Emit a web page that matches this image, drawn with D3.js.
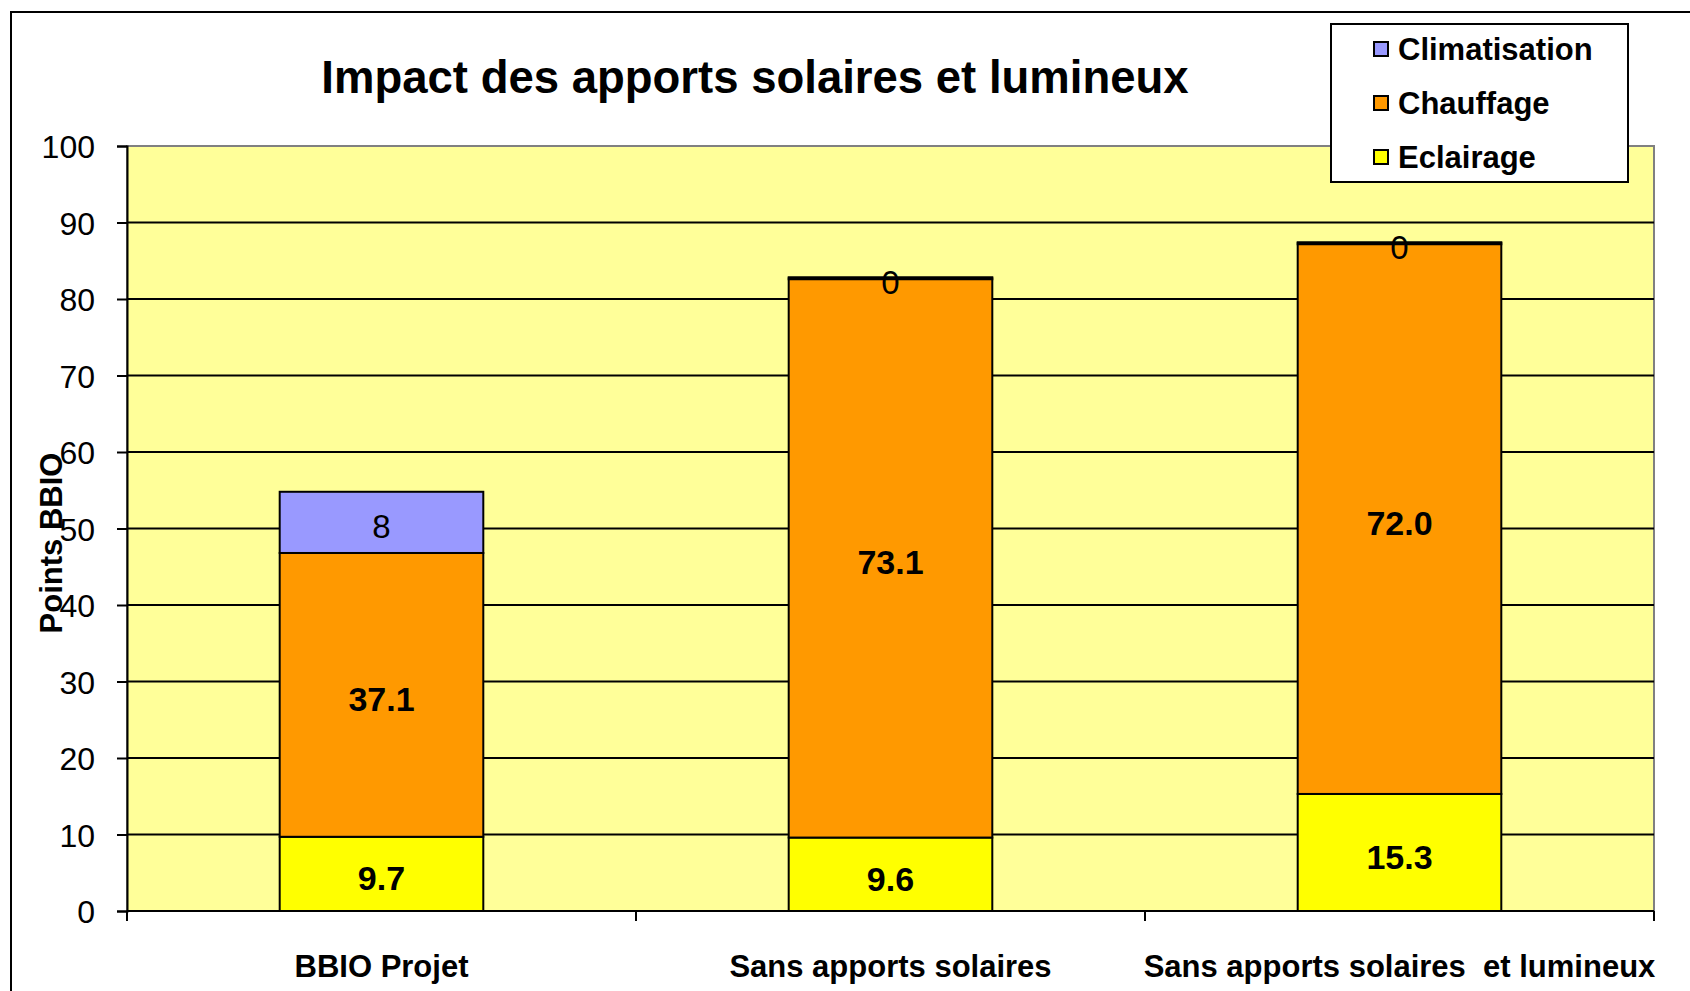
<!DOCTYPE html>
<html>
<head>
<meta charset="utf-8">
<script src="https://cdn.jsdelivr.net/npm/d3@7"></script>
<style>
  html, body { margin: 0; padding: 0; background: #fff; }
  svg { display: block; font-family: "Liberation Sans", Arial, sans-serif; }
</style>
</head>
<body>
<svg id="chart" width="1690" height="991"></svg>
<script>
// ---- data ----
const categories = ["BBIO Projet", "Sans apports solaires", "Sans apports solaires  et lumineux"];
const seriesNames = ["Climatisation", "Chauffage", "Eclairage"];
const eclairage = [9.7, 9.6, 15.3];
const chauffage = [37.1, 73.1, 72.0];
const climatisation = [8, 0, 0];
const yTickValues = [0, 10, 20, 30, 40, 50, 60, 70, 80, 90, 100];
const titleText = "Impact des apports solaires et lumineux";
const yAxisTitle = "Points BBIO";

// ---- layout ----
const W = 1690, H = 991;
const plot = { left: 127, right: 1654, top: 146, bottom: 911 };
const colors = { Climatisation: "#9999FF", Chauffage: "#FF9900", Eclairage: "#FFFF00" };
const font = '"Liberation Sans", Arial, sans-serif';

const svg = d3.select("#chart");

// outer chart border (extends past right/bottom)
svg.append("rect").attr("x", 11).attr("y", 12).attr("width", W + 20).attr("height", H + 20)
  .attr("fill", "#fff").attr("stroke", "#000").attr("stroke-width", 2);

const x = d3.scaleBand().domain(categories).range([plot.left, plot.right])
  .paddingInner(0.6).paddingOuter(0.3);
const y = d3.scaleLinear().domain([0, 100]).range([plot.bottom, plot.top]);

// plot area
svg.append("rect").attr("x", plot.left).attr("y", plot.top)
  .attr("width", plot.right - plot.left).attr("height", plot.bottom - plot.top)
  .attr("fill", "#FFFF99").attr("stroke", "#808080").attr("stroke-width", 2);

// gridlines
svg.append("g").selectAll("line").data(yTickValues.filter(v => v > 0 && v < 100)).join("line")
  .attr("x1", plot.left).attr("x2", plot.right)
  .attr("y1", d => y(d)).attr("y2", d => y(d))
  .attr("stroke", "#000").attr("stroke-width", 2);

// y axis
const yAxis = d3.axisLeft(y).tickValues(yTickValues).tickSize(10).tickPadding(22).tickFormat(d3.format("d"));
const gy = svg.append("g").attr("transform", `translate(${plot.left},0)`).call(yAxis);
gy.select(".domain").attr("stroke", "#000").attr("stroke-width", 2);
gy.selectAll(".tick line").attr("stroke", "#000").attr("stroke-width", 2);
gy.selectAll(".tick text").attr("font-family", font).attr("font-size", 32).attr("fill", "#000")
  .attr("dy", "0.36em");

// stacked data
const rows = categories.map((c, i) => ({ cat: c, Eclairage: eclairage[i], Chauffage: chauffage[i], Climatisation: climatisation[i] }));
const stackOrder = ["Eclairage", "Chauffage", "Climatisation"];
const stacked = d3.stack().keys(stackOrder)(rows);

const barsG = svg.append("g");
stacked.forEach(layer => {
  const key = layer.key;
  layer.forEach((seg, i) => {
    const x0 = x(rows[i].cat), bw = x.bandwidth();
    const y0 = y(seg[0]), y1 = y(seg[1]);
    if (y0 - y1 > 0.01) {
      barsG.append("rect").attr("x", x0).attr("y", y1).attr("width", bw).attr("height", y0 - y1)
        .attr("fill", colors[key]).attr("stroke", "#000").attr("stroke-width", 2);
    } else {
      barsG.append("line").attr("x1", x0 - 1).attr("x2", x0 + bw + 1).attr("y1", y1).attr("y2", y1)
        .attr("stroke", "#000").attr("stroke-width", 4);
    }
  });
});

// x axis (baseline + ticks at band boundaries)
svg.append("line").attr("x1", plot.left).attr("x2", plot.right).attr("y1", y(0)).attr("y2", y(0))
  .attr("stroke", "#000").attr("stroke-width", 2);
const boundaries = categories.map(c => x(c) - x.step() * x.paddingInner() / 2).concat([plot.right]);
boundaries[0] = plot.left;
svg.append("g").selectAll("line").data(boundaries).join("line")
  .attr("x1", d => d).attr("x2", d => d).attr("y1", y(0)).attr("y2", y(0) + 10)
  .attr("stroke", "#000").attr("stroke-width", 2);

// category labels
svg.append("g").selectAll("text").data(categories).join("text")
  .attr("x", d => x(d) + x.bandwidth() / 2).attr("y", 977)
  .attr("text-anchor", "middle").attr("font-family", font).attr("font-weight", "bold")
  .attr("font-size", 31).attr("fill", "#000").style("white-space", "pre")
  .text(d => d);

// data labels
const fmt1 = d3.format(".1f");
const labelsG = svg.append("g");
stacked.forEach(layer => {
  const key = layer.key;
  layer.forEach((seg, i) => {
    const cx = x(rows[i].cat) + x.bandwidth() / 2;
    const cy = (y(seg[0]) + y(seg[1])) / 2 + 4;
    const v = rows[i][key];
    const isClim = key === "Climatisation";
    labelsG.append("text").attr("x", cx).attr("y", cy).attr("dy", "0.36em")
      .attr("text-anchor", "middle").attr("font-family", font)
      .attr("font-weight", isClim ? "normal" : "bold")
      .attr("font-size", isClim ? 33 : 34).attr("fill", "#000")
      .text(isClim ? String(v) : fmt1(v));
  });
});

// title
svg.append("text").attr("x", 755).attr("y", 93).attr("text-anchor", "middle")
  .attr("font-family", font).attr("font-weight", "bold").attr("font-size", 45.5).attr("fill", "#000")
  .text(titleText);

// y axis title
svg.append("text").attr("transform", "translate(62,543) rotate(-90)").attr("text-anchor", "middle")
  .attr("font-family", font).attr("font-weight", "bold").attr("font-size", 31).attr("fill", "#000")
  .text(yAxisTitle);

// legend
const lg = svg.append("g");
lg.append("rect").attr("x", 1331).attr("y", 24).attr("width", 297).attr("height", 158)
  .attr("fill", "#fff").attr("stroke", "#000").attr("stroke-width", 2);
const legendY = d3.scalePoint().domain(seriesNames).range([49, 157]);
const items = lg.selectAll("g.item").data(seriesNames).join("g").attr("class", "item")
  .attr("transform", d => `translate(0,${legendY(d)})`);
items.append("rect").attr("x", 1374).attr("y", -7).attr("width", 14).attr("height", 14)
  .attr("fill", d => colors[d]).attr("stroke", "#000").attr("stroke-width", 2);
items.append("text").attr("x", 1398).attr("y", 0).attr("dy", "0.36em")
  .attr("font-family", font).attr("font-weight", "bold").attr("font-size", 31).attr("fill", "#000")
  .text(d => d);
</script>
</body>
</html>
